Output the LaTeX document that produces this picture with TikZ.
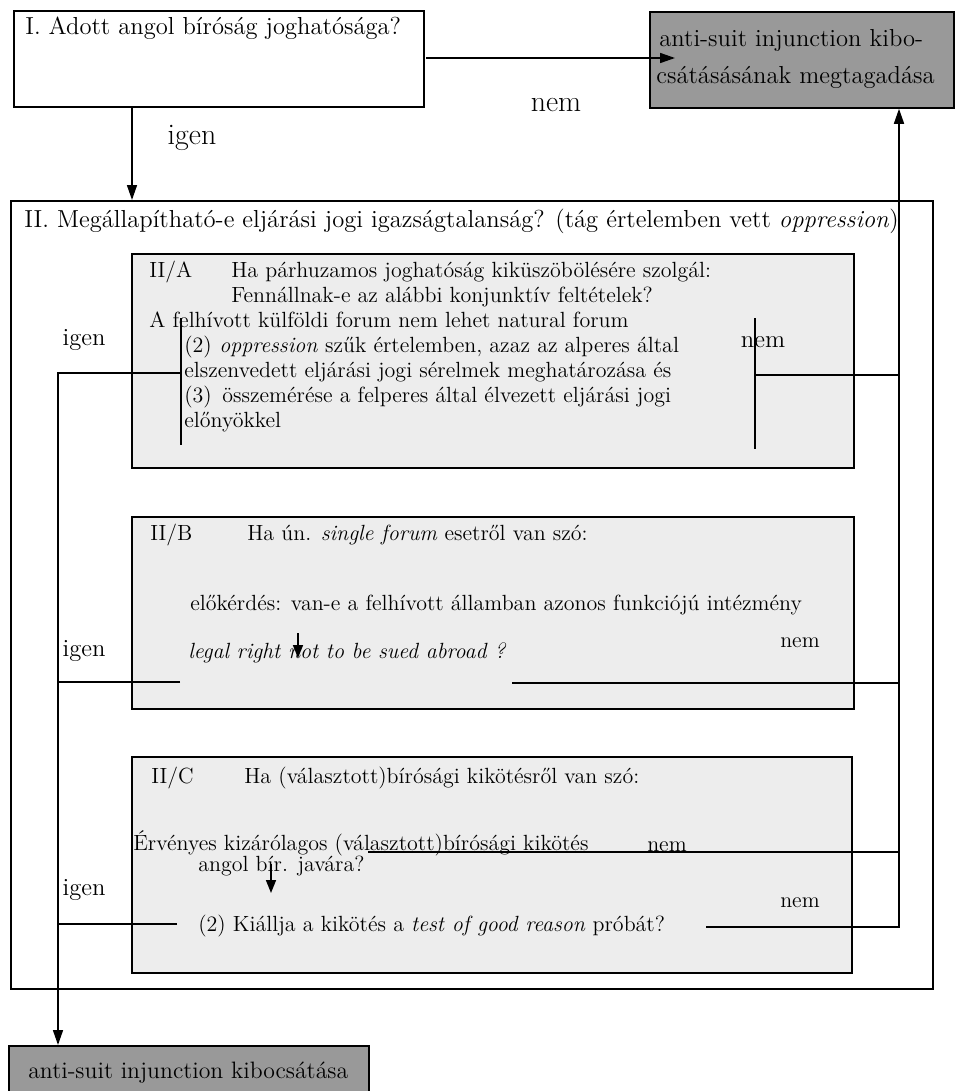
\documentclass[tikz,border=0pt]{standalone}
\usepackage{fontspec}
\usetikzlibrary{arrows.meta}
\newcommand\bodyfont{\fontsize{12.5}{15}\selectfont}
\newcommand\headfont{\fontsize{14}{17}\selectfont}
\newcommand\markfont{\fontsize{17}{20}\selectfont}

\begin{document}
\begin{tikzpicture}[x=0.2mm,y=-0.2mm,
  every node/.style={inner sep=0pt,font=\bodyfont},
  qbox/.style={draw,line width=1.2pt,anchor=north west},
  subbox/.style={qbox,fill=black!7,line width=1pt},
  resbox/.style={qbox,fill=black!40,line width=1pt},
  txt/.style={anchor=base west},
  headtxt/.style={txt,font=\headfont},
  yesno/.style={font=\headfont},
  bigyesno/.style={font=\markfont},
  conn/.style={line width=0.9pt},
  arr/.style={conn,-{Triangle[length=3mm,width=2mm]}},
  smallarr/.style={conn,-{Triangle[length=2.6mm,width=2mm]}}]
\useasboundingbox (0,0) rectangle (955,1091);
\node[qbox,minimum width=82mm,minimum height=19.2mm] (jur) at (13,10) {};
\node[headtxt] (jurT) at (25,34) {I. Adott angol bíróság joghatósága?};
\node[resbox,minimum width=60.8mm,minimum height=19.2mm] (refuse) at (649,11) {};
\node[headtxt] (refT1) at (659,46) {anti-suit injunction kibo-};
\node[headtxt] (refT2) at (656,83) {csátásásának megtagadása};
\node[bigyesno] (nemI) at (556,105) {nem};
\node[bigyesno] (igenI) at (192,138) {igen};
\node[qbox,minimum width=184.4mm,minimum height=157.6mm] (main) at (10,200) {};
\node[headtxt] (mainT) at (24,227) {II. Megállapítható-e eljárási jogi igazságtalanság? (tág értelemben vett \textit{oppression})};
\node[subbox,minimum width=144.4mm,minimum height=42.8mm] (boxA) at (131,253) {};
\node[txt] (aLab) at (149,277) {II/A};
\node[txt] (aT1) at (231,277) {Ha párhuzamos joghatóság kiküszöbölésére szolgál:};
\node[txt] (aT2) at (231,302) {Fennállnak-e az alábbi konjunktív feltételek?};
\node[txt] (aT3) at (149,327) {A felhívott külföldi forum nem lehet natural forum};
\node[txt] (aT4) at (184,352) {(2)};
\node[txt] (aT4b) at (219,352) {\textit{oppression} szűk értelemben, azaz az alperes által};
\node[txt] (aT5) at (184,377) {elszenvedett eljárási jogi sérelmek meghatározása és};
\node[txt] (aT6) at (184,402) {(3)};
\node[txt] (aT6b) at (222,402) {összemérése a felperes által élvezett eljárási jogi};
\node[txt] (aT7) at (184,427) {előnyökkel};
\node[yesno] (igenA) at (84,340) {igen};
\node[yesno] (nemA) at (763,342) {nem};
\node[subbox,minimum width=144.4mm,minimum height=38.4mm] (boxB) at (131,516) {};
\node[txt] (bLab) at (150,540) {II/B};
\node[txt] (bT1) at (247,540) {Ha ún. \textit{single forum} esetről van szó:};
\node[txt] (bT2) at (190,610) {előkérdés: van-e a felhívott államban azonos funkciójú intézmény};
\node (nemB) at (800,643) {nem};
\node[txt] (bT3) at (188,658) {\textit{legal right not to be sued abroad ?}};
\node[yesno] (igenB) at (84,651) {igen};
\node[subbox,minimum width=144mm,minimum height=43.2mm] (boxC) at (131,756) {};
\node[txt] (cLab) at (151,783) {II/C};
\node[txt] (cT1) at (244,783) {Ha (választott)bírósági kikötésről van szó:};
\node[txt] (cT2) at (133,850) {Érvényes kizárólagos (választott)bírósági kikötés};
\node (nemC1) at (667,847) {nem};
\node[txt] (cT3) at (198,871) {angol bír. javára?};
\node[yesno] (igenC) at (84,890) {igen};
\node (nemC2) at (800,903) {nem};
\node[txt] (cT4) at (198,931) {(2) Kiállja a kikötés a \textit{test of good reason} próbát?};
\node[resbox,minimum width=72mm,minimum height=10mm] (grant) at (8,1045) {};
\node[txt,font=\fontsize{13.5}{16}\selectfont] (grantT) at (28,1078) {anti-suit injunction kibocsátása};
\coordinate (noI) at (426,58);
\coordinate (noIend) at (675,58);
\coordinate (yesI) at (132,106);
\coordinate (lbrT) at (181,318);
\coordinate (lbrB) at (181,445);
\coordinate (rbrT) at (755,318);
\coordinate (rbrB) at (755,449);
\coordinate (yesA) at (181,373);
\coordinate (spineL) at (58,373);
\coordinate (noA) at (755,375);
\coordinate (yesB) at (180,682);
\coordinate (noB) at (512,683);
\coordinate (yesC) at (177,924);
\coordinate (noC1) at (368,852);
\coordinate (noC2) at (706,927);
\coordinate (spineR) at (899,927);
\coordinate (qB) at (298,633);
\coordinate (qBend) at (298,658);
\coordinate (qC) at (271,864);
\coordinate (qCend) at (271,893);
\draw[arr] (noI) -- (noIend);
\draw[arr] (yesI) -- (yesI |- main.north);
\draw[conn] (lbrT) -- (lbrB);
\draw[conn] (rbrT) -- (rbrB);
\draw[arr] (yesA) -- (spineL) -- (spineL |- grant.north);
\draw[conn] (yesB) -- (yesB -| spineL);
\draw[conn] (yesC) -- (yesC -| spineL);
\draw[arr] (noC2) -- (spineR) -- (spineR |- refuse.south);
\draw[conn] (noA) -- (noA -| spineR);
\draw[conn] (noB) -- (noB -| spineR);
\draw[conn] (noC1) -- (noC1 -| spineR);
\draw[smallarr] (qB) -- (qBend);
\draw[smallarr] (qC) -- (qCend);
\end{tikzpicture}
\end{document}
